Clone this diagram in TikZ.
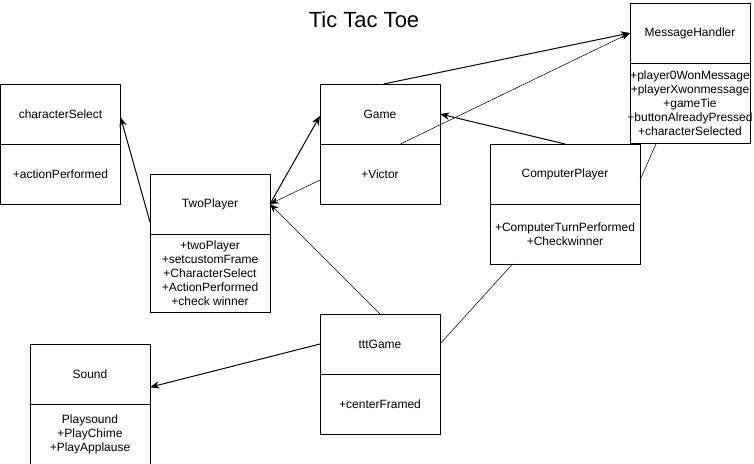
\documentclass[tikz,border=0pt]{standalone}
\usepackage{fontspec}
\setmainfont{Liberation Sans}
\usetikzlibrary{arrows.meta,positioning,calc}

\begin{document}
\begin{tikzpicture}[x=0.75pt, y=-0.75pt, node distance=0pt,
  every node/.style={font=\fontsize{9}{10.5}\selectfont},
  head/.style={draw, line width=0.75pt, minimum width=90pt, minimum height=45pt,
    inner sep=0pt, outer sep=0pt, align=center},
  link/.style={-{Stealth[length=7pt,width=5.5pt]}, line width=0.75pt},
  thinlink/.style={-{Stealth[length=6.5pt,width=5pt]}, line width=0.4pt},
  plainlink/.style={line width=0.4pt}]

  \useasboundingbox (0,0) rectangle (754,464);

  % Title
  \node (title) at (364,20) [font=\fontsize{16.5}{20}\selectfont] {Tic Tac Toe};

  % Classes
  \node[head] (cs) at (60.5,114) {characterSelect};
  \node[head, below=of cs] (csops) {+actionPerformed};

  \node[head] (game) at (380,114) {Game};
  \node[head, below=of game] (gameops) {+Victor};

  \node[head] (msg) at (690,33) {MessageHandler};
  \node[head, below=of msg, minimum height=60pt] (msgops)
    {+player0WonMessage\\+playerXwonmessage\\+gameTie\\
     \makebox[90pt]{+buttonAlreadyPressed}\\+characterSelected};

  \node[head, minimum width=112.5pt] (cp) at (565,174) {ComputerPlayer};
  \node[head, below=of cp, minimum width=112.5pt] (cpops)
    {+ComputerTurnPerformed\\+Checkwinner};

  \node[head] (two) at (210,204) {TwoPlayer};
  \node[head, below=of two, minimum height=58.5pt] (twoops)
    {+twoPlayer\\+setcustomFrame\\+CharacterSelect\\+ActionPerformed\\+check winner};

  \node[head] (ttt) at (380,344) {tttGame};
  \node[head, below=of ttt] (tttops) {+centerFramed};

  \node[head] (sound) at (90,374) {Sound};
  \node[head, below=of sound] (soundops) {Playsound\\+PlayChime\\+PlayApplause};

  % Relations
  \draw[link] ($(two.north west)!0.8!(two.south west)$) -- ($(cs.north east)!0.55!(cs.south east)$);
  \draw[link] (two.east) -- ($(game.north west)!0.53!(game.south west)$);
  \draw[thinlink] ($(gameops.north west)!0.6!(gameops.south west)$) -- (two.east);
  \draw[thinlink] (ttt.north) -- (two.east);
  \draw[link] ($(game.north west)!0.53!(game.north east)$) -- (msg.west);
  \draw[thinlink] ($(game.south west)!0.67!(game.south east)$) -- (msg.west);
  \draw[link] (cp.north) -- (game.east);
  \draw[plainlink] ($(cp.north east)!0.6!(cp.south east)$) -- ($(msgops.south west)!0.22!(msgops.south east)$);
  \draw[plainlink] (ttt.east) -- ($(cpops.south west)!0.15!(cpops.south east)$);
  \draw[link] (ttt.west) -- ($(sound.north east)!0.72!(sound.south east)$);
\end{tikzpicture}
\end{document}
